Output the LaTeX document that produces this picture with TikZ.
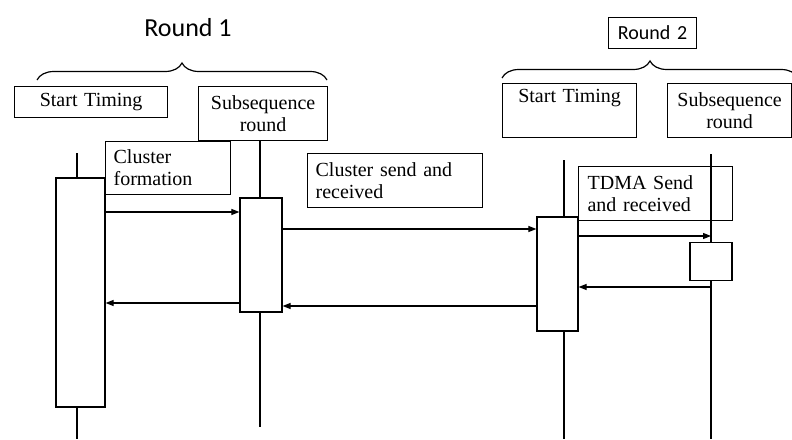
\documentclass[tikz,border=0pt]{standalone}
\usepackage{fontspec}
\setmainfont{Liberation Serif}
\newfontfamily\roundfont{Carlito}
\usetikzlibrary{positioning,arrows.meta,decorations.pathreplacing}

\begin{document}
\begin{tikzpicture}[x=1pt,y=-1pt,line width=1.2pt,
    box/.style={rectangle,draw,anchor=north west,inner ysep=0pt,inner xsep=8pt,font=\fontsize{20}{22}\selectfont},
    act/.style={rectangle,draw,inner sep=0pt},
    msg/.style={-{Triangle[length=8pt,width=6pt]},line width=1.1pt},
    brc/.style={decorate,decoration={brace,amplitude=17pt}}]

\useasboundingbox (0,0) rectangle (792,439);

% round labels and braces
\node[font=\roundfont\fontsize{26}{28}\selectfont] (r1) at (188,28) {Round 1};
\node[box,font=\roundfont\fontsize{20}{22}\selectfont,minimum width=88pt,minimum height=31pt,align=center,text width=72pt] (r2) at (608,17) {Round 2};

\coordinate (b1l) at (37,80);
\coordinate (b1r) at (327,80);
\coordinate (b2l) at (502,78);
\coordinate (b2r) at (798,78);
\draw[brc] (b1l) -- (b1r);
\draw[brc] (b2l) -- (b2r);

% header boxes
\node[box,minimum width=153pt,minimum height=31pt,text width=137pt,align=center] (st1) at (14,86) {Start Timing};
\node[box,minimum width=129pt,minimum height=54pt,text width=113pt,align=center] (sr1) at (198,86) {Subsequence\\round};
\node[box,minimum width=134pt,minimum height=54pt,text width=118pt,align=center] (st2) at (502,83) {Start Timing\\\strut};
\node[box,minimum width=124pt,minimum height=54pt,text width=108pt,align=center] (sr2) at (667,83) {Subsequence\\round};

% phase boxes
\node[box,minimum width=125pt,minimum height=53pt,text width=109pt,align=left] (cf) at (105,141) {Cluster\\formation};
\node[box,minimum width=175pt,minimum height=54pt,text width=159pt,align=left] (cs) at (307,153) {Cluster send and\\received};
\node[box,inner xsep=9pt,minimum width=154pt,minimum height=54pt,text width=136pt,align=left] (td) at (578,166) {TDMA Send\\and received};

% activations
\node[act,minimum width=49pt,minimum height=229pt] (a1) at (80.5,292.5) {};
\node[act,minimum width=42pt,minimum height=114pt] (a2) at (261,255) {};
\node[act,minimum width=41pt,minimum height=114pt] (a3) at (557.5,274) {};
\node[act,minimum width=42pt,minimum height=38pt] (a4) at (711,261.5) {};

% lifelines
\coordinate (l1t) at (77,153);
\coordinate (l1b) at (77,439);
\coordinate (l2t) at (260,140);
\coordinate (l2b) at (260,427);
\coordinate (l3t) at (564,160);
\coordinate (l3b) at (564,439);
\coordinate (l4t) at (711,154);
\coordinate (l4b) at (711,439);
\draw (l1t) -- (l1t |- a1.north);
\draw (l1t |- a1.south) -- (l1b);
\draw (l2t) -- (l2t |- a2.north);
\draw (l2t |- a2.south) -- (l2b);
\draw (l3t) -- (l3t |- a3.north);
\draw (l3t |- a3.south) -- (l3b);
\draw (l4t) -- (a4.north);
\draw (a4.south) -- (l4b);

% messages
\coordinate (m1) at (0,212);
\coordinate (m2) at (0,229);
\coordinate (m3) at (0,303);
\coordinate (m4) at (0,306);
\coordinate (m5) at (0,236);
\coordinate (m6) at (0,287);
\draw[msg] (a1.east |- m1) -- (a2.west |- m1);
\draw[msg] (a2.east |- m2) -- (a3.west |- m2);
\draw[msg] (a2.west |- m3) -- (a1.east |- m3);
\draw[msg] (a3.west |- m4) -- (a2.east |- m4);
\draw[msg] (a3.east |- m5) -- (l4t |- m5);
\draw[msg] (l4t |- m6) -- (a3.east |- m6);

\end{tikzpicture}
\end{document}
